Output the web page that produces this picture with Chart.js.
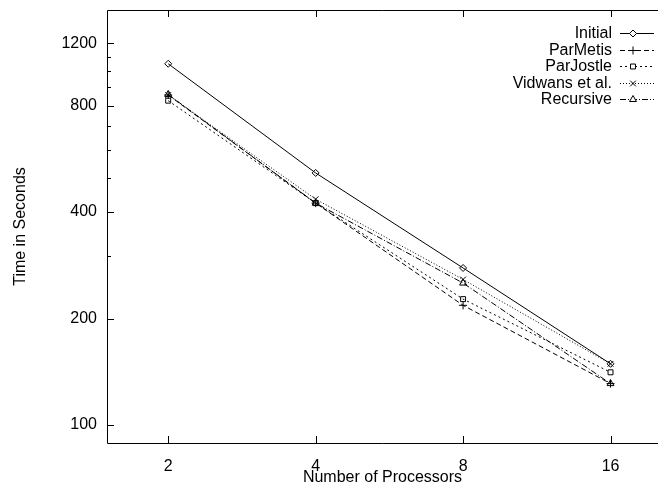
<!DOCTYPE html>
<html>
<head>
<meta charset="utf-8">
<script src="https://cdn.jsdelivr.net/npm/chart.js@4/dist/chart.umd.min.js"></script>
<style>
  html, body { margin: 0; padding: 0; background: #fff; }
  #wrap { width: 663px; height: 487px; }
</style>
</head>
<body>
<div id="wrap"><canvas id="chart" width="663" height="487"></canvas></div>
<script>
// データ ---------------
const processors = [2, 4, 8, 16];
const initialTimes = [1050, 516, 278, 149];
const parMetisTimes = [857, 424, 218, 131];
const parJostleTimes = [826, 424, 227, 141];
const vidwansTimes = [857, 435, 258, 149];
const recursiveTimes = [860, 424, 252, 131];

const xTicks = [2, 4, 8, 16];
const yTicks = [100, 200, 300, 400, 500, 600, 700, 800, 900, 1000, 1100, 1200];
const yLabels = [100, 200, 400, 800, 1200];

const FONT = "'Liberation Sans', Arial, sans-serif";

function toPoints(values) {
  return processors.map((p, i) => ({ x: p, y: values[i] }));
}

function series(label, values, style, dash, radius) {
  return {
    label: label,
    data: toPoints(values),
    borderColor: "#000",
    borderWidth: 1,
    borderDash: dash,
    pointStyle: style,
    pointRadius: radius,
    pointBorderColor: "#000",
    pointBorderWidth: 1,
    pointBackgroundColor: "rgba(255,255,255,0)",
    showLine: true,
    fill: false,
    tension: 0
  };
}

const datasets = [
  series("Initial", initialTimes, "rectRot", [], 3.5),
  series("ParMetis", parMetisTimes, "cross", [5, 3], 4),
  series("ParJostle", parJostleTimes, "rect", [2, 3], 3.5),
  series("Vidwans et al.", vidwansTimes, "crossRot", [1, 2], 4),
  series("Recursive", recursiveTimes, "triangle", [6, 2, 1, 2], 4)
];

// 枠と内向きの目盛り（gnuplot風）
const framePlugin = {
  id: "frame",
  afterDraw(chart) {
    const ctx = chart.ctx;
    const a = chart.chartArea;
    const xs = chart.scales.x;
    const ys = chart.scales.y;
    ctx.save();
    ctx.strokeStyle = "#000";
    ctx.lineWidth = 1;
    ctx.beginPath();
    ctx.moveTo(a.right, a.top + 0.5);
    ctx.lineTo(a.left + 0.5, a.top + 0.5);
    ctx.lineTo(a.left + 0.5, a.bottom + 0.5);
    ctx.lineTo(a.right, a.bottom + 0.5);
    ctx.stroke();

    ctx.beginPath();
    xTicks.forEach(v => {
      const px = Math.round(xs.getPixelForValue(v)) + 0.5;
      ctx.moveTo(px, a.bottom);
      ctx.lineTo(px, a.bottom - 7);
      ctx.moveTo(px, a.top);
      ctx.lineTo(px, a.top + 7);
    });
    yTicks.forEach(v => {
      const py = Math.round(ys.getPixelForValue(v)) + 0.5;
      const len = yLabels.includes(v) ? 7 : 4;
      ctx.moveTo(a.left, py);
      ctx.lineTo(a.left + len, py);
    });
    ctx.stroke();
    ctx.restore();
  }
};

// 凡例（右上、テキスト右寄せ＋線見本）
const keyPlugin = {
  id: "key",
  afterDatasetsDraw(chart) {
    const ctx = chart.ctx;
    ctx.save();
    ctx.font = "16px " + FONT;
    ctx.textAlign = "right";
    ctx.textBaseline = "middle";
    chart.data.datasets.forEach((ds, i) => {
      const y = Math.round(33 + i * 16.5) + 0.5;
      ctx.fillStyle = "#000";
      ctx.fillText(ds.label, 612, y);
      ctx.strokeStyle = "#000";
      ctx.lineWidth = 1;
      ctx.setLineDash(ds.borderDash);
      ctx.beginPath();
      ctx.moveTo(620, y);
      ctx.lineTo(654, y);
      ctx.stroke();
      ctx.setLineDash([]);
      ctx.fillStyle = "#fff";
      Chart.helpers.drawPoint(ctx, {
        pointStyle: ds.pointStyle,
        radius: ds.pointRadius,
        rotation: 0,
        borderWidth: 1
      }, 633, y);
    });
    ctx.restore();
  }
};

new Chart(document.getElementById("chart").getContext("2d"), {
  type: "scatter",
  data: { datasets: datasets },
  options: {
    responsive: false,
    animation: false,
    layout: { padding: { top: 10, right: 0, left: 0, bottom: 0 } },
    plugins: {
      legend: { display: false },
      tooltip: { enabled: false }
    },
    scales: {
      x: {
        type: "logarithmic",
        min: 1.5,
        max: 20,
        afterBuildTicks(scale) {
          scale.ticks = xTicks.map(v => ({ value: v }));
        },
        afterFit(scale) {
          scale.height = 44;
          scale.paddingLeft = 0;
          scale.paddingRight = 0;
        },
        grid: { display: false, drawTicks: false },
        border: { display: false },
        ticks: {
          color: "#000",
          font: { family: FONT, size: 16 },
          padding: 14,
          maxRotation: 0,
          autoSkip: false,
          callback: v => String(v)
        },
        title: {
          display: true,
          text: "Number of Processors",
          color: "#000",
          font: { family: FONT, size: 16 },
          padding: { top: -2, bottom: 0 }
        }
      },
      y: {
        type: "logarithmic",
        min: 89,
        max: 1490,
        afterBuildTicks(scale) {
          scale.ticks = yTicks.map(v => ({ value: v }));
        },
        afterFit(scale) {
          scale.width = 107;
          scale.paddingTop = 0;
          scale.paddingBottom = 0;
        },
        grid: { display: false, drawTicks: false },
        border: { display: false },
        ticks: {
          color: "#000",
          font: { family: FONT, size: 16 },
          padding: 10,
          autoSkip: false,
          callback: v => (yLabels.includes(v) ? String(v) : "")
        },
        title: {
          display: true,
          text: "Time in Seconds",
          color: "#000",
          font: { family: FONT, size: 16 },
          padding: { top: 11, bottom: 0 }
        }
      }
    }
  },
  plugins: [framePlugin, keyPlugin]
});
</script>
</body>
</html>
